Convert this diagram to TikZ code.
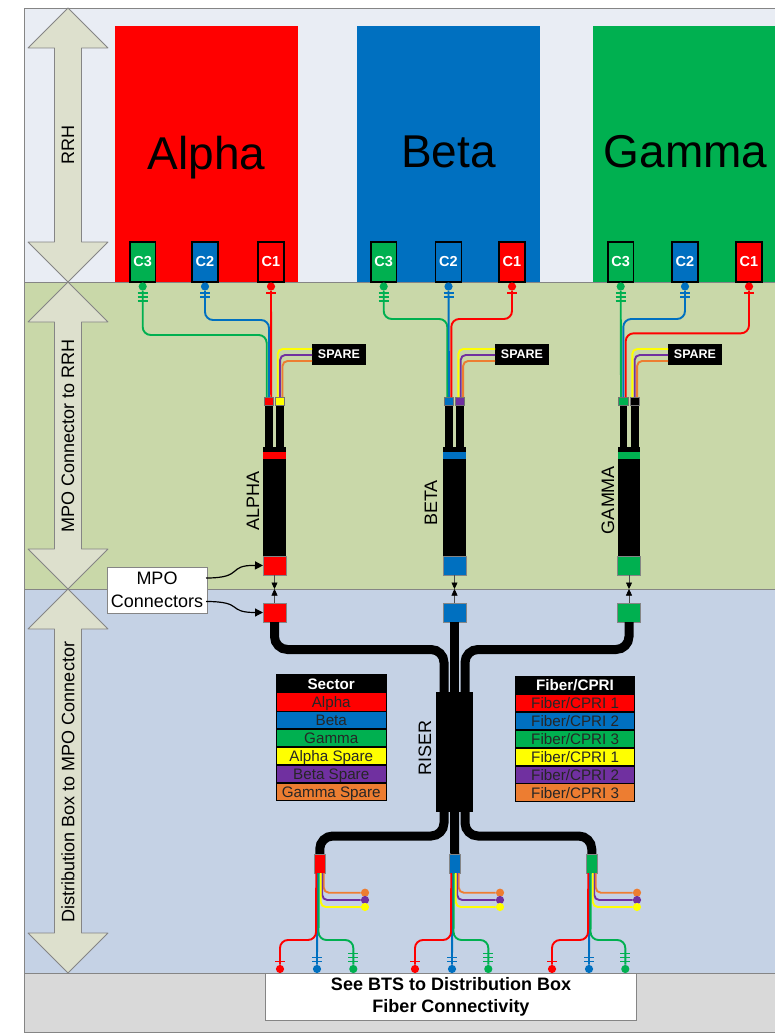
\documentclass[tikz,border=0pt]{standalone}
\usepackage{fontspec}
\setmainfont{Liberation Sans}
\usetikzlibrary{arrows.meta}
\definecolor{cred}{HTML}{FF0000}
\definecolor{cblue}{HTML}{0070C0}
\definecolor{cgreen}{HTML}{00B050}
\definecolor{cyellow}{HTML}{FFFF00}
\definecolor{cpurple}{HTML}{7030A0}
\definecolor{corange}{HTML}{ED7D31}
\definecolor{bandtop}{HTML}{E9EDF4}
\definecolor{bandgreen}{HTML}{C9D8A9}
\definecolor{bandblue}{HTML}{C5D2E5}
\definecolor{bandgray}{HTML}{D9D9D9}
\definecolor{arrowfill}{HTML}{DDE0CD}
\definecolor{edgegray}{HTML}{858585}
\tikzset{
  bandbox/.style={draw=edgegray,line width=0.8pt},
  bigarrow/.style={draw=edgegray,fill=arrowfill,line width=0.8pt,line join=round},
  sidelabel/.style={rotate=90,font=\fontsize{18}{18}\selectfont,inner sep=0pt},
  bx/.style={inner sep=0pt,outer sep=0pt,anchor=north west},
  portbox/.style={bx,draw=black,line width=1.4pt,text=white,font=\bfseries\fontsize{14.5}{14.5}\selectfont},
  sectorbox/.style={bx},
  blackbox/.style={bx,fill=black},
  capbox/.style={bx,draw=black!55,line width=0.4pt},
  plugbox/.style={bx,draw=edgegray,line width=0.4pt},
  sparebox/.style={bx,fill=black,text=white,font=\bfseries\fontsize{12.5}{12.5}\selectfont},
  legrow/.style={bx,font=\fontsize{15.2}{15.2}\selectfont,text=black!85,text height=13pt,text depth=2pt},
  leghead/.style={bx,text=white,font=\bfseries\fontsize{15.2}{15.2}\selectfont},
  fib/.style={line width=1.9pt,rounded corners=8pt},
  sparefib/.style={line width=1.9pt,rounded corners=5pt},
  fibtick/.style={line width=1.4pt},
  fdot/.style={circle,inner sep=0pt,minimum size=8.2pt},
  cable/.style={line width=9pt,draw=black,rounded corners=13pt},
  pointer/.style={line width=1.2pt,black,-{Triangle[length=8pt,width=8pt]}},
  thinarrow/.style={line width=0.5pt,draw=black!70,-{Triangle[length=6.5pt,width=6pt,color=black]}},
  whitebox/.style={bx,fill=white,draw=edgegray,line width=0.8pt,align=center},
  bigtext/.style={font=\fontsize{46}{46}\selectfont,inner sep=0pt},
}
% named rectangle from corner to corner
\newcommand\rc[7]{\node[#6,minimum width={(#4-#2)*1pt},minimum height={(#5-#3)*1pt}] (#1) at (#2,#3) {#7};}
\newcommand\tk[3]{\draw[fibtick,#1] ([shift={(-5,#3)}]#2.center) -- ([shift={(5,#3)}]#2.center);}
% harness body: prefix, x offset, colour, left cap, right cap
\newcommand\harness[5]{
\begin{scope}[shift={(#2,0)}]
  \rc{#1legL}{265}{397}{272.7}{450}{blackbox}{}
  \rc{#1legR}{276}{397}{284}{450}{blackbox}{}
  \rc{#1body}{263.3}{447}{285.5}{556}{blackbox}{}
  \rc{#1band}{263.3}{452.3}{285.5}{459}{bx,fill=#3}{}
  \rc{#1up}{263}{556}{286}{575}{plugbox,fill=#3}{}
  \rc{#1lo}{263}{603}{286}{622}{plugbox,fill=#3}{}
  \rc{#1cL}{264}{397}{273.3}{405}{capbox,fill=#4}{}
  \rc{#1cR}{275.3}{397}{284.3}{405}{capbox,fill=#5}{}
  \coordinate (#1mid) at (274.5,589);
\end{scope}
\draw[thinarrow] (#1up.south) -- (#1mid);
\draw[thinarrow] (#1lo.north) -- (#1mid);
}
% lower fibre group: prefix, x offset, colour
\newcommand\fibres[3]{
\begin{scope}[shift={(#2,0)}]
  \rc{#1c}{314}{854}{325.5}{873}{plugbox,fill=#3}{}
  \node[fdot,fill=corange] (#1o) at (365,892.7) {};
  \node[fdot,fill=cpurple] (#1p) at (365,900) {};
  \node[fdot,fill=cyellow] (#1y) at (365,907) {};
  \node[fdot,fill=cred] (#1r) at (280,969) {};
  \node[fdot,fill=cblue] (#1b) at (317,969) {};
  \node[fdot,fill=cgreen] (#1g) at (353.3,969) {};
  \coordinate (#1rb) at (316,940);
  \coordinate (#1gb) at (318.5,940);
  \draw[sparefib,corange] ([xshift=4pt]#1c.south) |- (#1o);
  \draw[sparefib,cpurple] ([xshift=2.5pt]#1c.south) |- (#1p);
  \draw[sparefib,cyellow] ([xshift=1pt]#1c.south) |- (#1y);
  \draw[fib,cblue] ([xshift=-2.5pt]#1c.south) -- (#1b);
  \draw[fib,cgreen] ([xshift=-1pt]#1c.south) -- (#1gb) -| (#1g);
  \draw[fib,cred] ([xshift=-3.5pt]#1c.south) -- (#1rb) -| (#1r);
  \tk{cred}{#1r}{-7.5}
  \tk{cblue}{#1b}{-7.5}\tk{cblue}{#1b}{-11.5}
  \tk{cgreen}{#1g}{-7.5}\tk{cgreen}{#1g}{-11.5}\tk{cgreen}{#1g}{-15.5}
\end{scope}
}
% ports of a sector: prefix and left edges of the three ports
\newcommand\ports[4]{
  \rc{#1p3}{#2}{242}{#2+25.5}{282}{portbox,fill=cgreen}{C3}
  \rc{#1p2}{#3}{242}{#3+26}{282}{portbox,fill=cblue}{C2}
  \rc{#1p1}{#4}{242}{#4+26}{282}{portbox,fill=cred}{C1}
  \node[fdot,fill=cgreen] (#1d3) at (#2+12.7,286.5) {};
  \node[fdot,fill=cblue] (#1d2) at (#3+13,286.5) {};
  \node[fdot,fill=cred] (#1d1) at (#4+13,286.5) {};
  \tk{cgreen}{#1d3}{6.5}\tk{cgreen}{#1d3}{10.5}\tk{cgreen}{#1d3}{14.5}
  \tk{cblue}{#1d2}{6.5}\tk{cblue}{#1d2}{10.5}
  \tk{cred}{#1d1}{6.5}
}
% spare fibres: prefix, x of yellow riser, box west x
\newcommand\spares[3]{
  \rc{#1sp}{#3}{344}{#3+54}{365}{sparebox}{SPARE}
  \coordinate (#1sy) at (#2,349);
  \coordinate (#1sv) at (#2+2.4,355);
  \coordinate (#1so) at (#2+4.8,361);
  \draw[sparefib,cyellow] (#1sy -| #1sp.west) -- (#1sy) -- (#1sy |- #1cR.north);
  \draw[sparefib,cpurple] (#1sv -| #1sp.west) -- (#1sv) -- (#1sv |- #1cR.north);
  \draw[sparefib,corange] (#1so -| #1sp.west) -- (#1so) -- (#1so |- #1cR.north);
}
\newcommand\dblarrow[2]{
  \draw[bigarrow] (68,#1) -- (108,#1+40) -- (81.5,#1+40) -- (81.5,#2-40) -- (108,#2-40) -- (68,#2)
     -- (28,#2-40) -- (54.5,#2-40) -- (54.5,#1+40) -- (28,#1+40) -- cycle;
}
\begin{document}
\begin{tikzpicture}[x=1pt,y=-1pt]
\useasboundingbox (0,0) rectangle (775,1035);
% bands
\fill[white] (0,0) rectangle (775,1035);
\draw[bandbox,fill=bandtop] (24,8) rectangle (776,282);
\draw[bandbox,fill=bandgreen] (24,282) rectangle (776,589);
\draw[bandbox,fill=bandblue] (24,589) rectangle (776,973);
\draw[bandbox,fill=bandgray] (24,973) rectangle (776,1032);
% side arrows
\dblarrow{8}{282}
\dblarrow{282}{589}
\dblarrow{589}{973}
\node[sidelabel] (lrrh) at (68,145) {RRH};
\node[sidelabel] (lmpo) at (68,436) {MPO Connector to RRH};
\node[sidelabel] (ldist) at (68,782) {Distribution Box to MPO Connector};
% RRH sectors
\rc{alpha}{115}{26}{298}{282}{sectorbox,fill=cred}{}
\rc{beta}{357}{26}{540}{282}{sectorbox,fill=cblue}{}
\rc{gamma}{593}{26}{776}{282}{sectorbox,fill=cgreen}{}
\node[bigtext] (talpha) at (206.5,157.5) {Alpha};
\node[bigtext] (tbeta) at (448.5,152) {Beta};
\node[bigtext] (tgamma) at (685.5,152) {Gamma};
\ports{a}{130}{192}{258}
\ports{b}{371}{435.5}{499}
\ports{c}{608}{672}{736}
% harness bodies
\harness{ha}{0}{cred}{cred}{cyellow}
\harness{hb}{180}{cblue}{cblue}{cpurple}
\harness{hc}{354.5}{cgreen}{cgreen}{black}
\node[sidelabel] (lalpha) at (253,501) {ALPHA};
\node[sidelabel] (lbeta) at (431,503) {BETA};
\node[sidelabel] (lgamma) at (608,500) {GAMMA};
% upper fibres, alpha
\coordinate (ag) at (266.7,335);
\coordinate (ab) at (269,320);
\coordinate (ar) at (271.2,320);
\draw[fib,cgreen] (ad3) |- (ag) -- (ag |- hacL.north);
\draw[fib,cblue] (ad2) |- (ab) -- (ab |- hacL.north);
\draw[fib,cred] (ad1) -- (ar |- hacL.north);
\spares{ha}{277.7}{312}
% upper fibres, beta
\coordinate (bg) at (447.3,319);
\coordinate (bb) at (449,319);
\coordinate (br) at (451.3,319);
\draw[fib,cgreen] (bd3) |- (bg) -- (bg |- hbcL.north);
\draw[fib,cblue] (bd2) -- (bb |- hbcL.north);
\draw[fib,cred] (bd1) |- (br) -- (br |- hbcL.north);
\spares{hb}{458.3}{495}
% upper fibres, gamma
\coordinate (cg) at (621,333);
\coordinate (cb) at (623.3,319);
\coordinate (cr) at (625.7,333.3);
\draw[fib,cgreen] (cd3) -- (cg |- hccL.north);
\draw[fib,cblue] (cd2) |- (cb) -- (cb |- hccL.north);
\draw[fib,cred] (cd1) |- (cr) -- (cr |- hccL.north);
\spares{hc}{632.3}{668}
% riser
\rc{riser}{436}{692}{473}{812}{blackbox}{}
\node[sidelabel] (lriser) at (425,748) {RISER};
\coordinate (rl) at (444,649.5);
\coordinate (rr) at (465,649.5);
\coordinate (rm) at (454.5,649.5);
\coordinate (sl) at (444,836);
\coordinate (sr) at (465,836);
\draw[cable] (halo.south) |- (rl) -- (rl |- riser.north);
\draw[cable] (hblo.south) -- (rm |- riser.north);
\draw[cable] (hclo.south) |- (rr) -- (rr |- riser.north);
% lower fibres and their cables
\draw[cable] (sl |- riser.south) -- (sl) -| (319.75,854);
\draw[cable] (rm |- riser.south) -- (454.75,854);
\draw[cable] (sr |- riser.south) -- (sr) -| (591.75,854);
\fibres{fa}{0}{cred}
\fibres{fb}{135}{cblue}
\fibres{fc}{272}{cgreen}
% legends
\rc{secbg}{275.7}{674.3}{386.7}{801.3}{blackbox}{}
\rc{sech}{275.7}{674.3}{386.7}{693.3}{leghead}{Sector}
\rc{sec1}{277}{693.3}{385.5}{710.5}{legrow,fill=cred}{Alpha}
\rc{sec2}{277}{711.7}{385.5}{728.2}{legrow,fill=cblue}{Beta}
\rc{sec3}{277}{729.5}{385.5}{746.3}{legrow,fill=cgreen}{Gamma}
\rc{sec4}{277}{747.7}{385.5}{764.2}{legrow,fill=cyellow}{Alpha Spare}
\rc{sec5}{277}{765.7}{385.5}{782.2}{legrow,fill=cpurple}{Beta Spare}
\rc{sec6}{277}{784}{385.5}{800.2}{legrow,fill=corange}{Gamma Spare}
\rc{fibg}{515}{675.7}{635}{802.3}{blackbox}{}
\rc{fih}{515}{675.7}{635}{694.7}{leghead}{Fiber/CPRI}
\rc{fi1}{516.3}{695}{634}{711.2}{legrow,fill=cred}{Fiber/CPRI 1}
\rc{fi2}{516.3}{712.7}{634}{729}{legrow,fill=cblue}{Fiber/CPRI 2}
\rc{fi3}{516.3}{730.7}{634}{747}{legrow,fill=cgreen}{Fiber/CPRI 3}
\rc{fi4}{516.3}{748.7}{634}{765}{legrow,fill=cyellow}{Fiber/CPRI 1}
\rc{fi5}{516.3}{766.7}{634}{783}{legrow,fill=cpurple}{Fiber/CPRI 2}
\rc{fi6}{516.3}{784.3}{634}{801}{legrow,fill=corange}{Fiber/CPRI 3}
% MPO callout
\rc{mpo}{107}{567}{207}{613}{whitebox,font=\fontsize{18}{23}\selectfont}{MPO\\Connectors}
\coordinate (m1) at (206,578);
\coordinate (m2) at (206,601.5);
\draw[pointer] (m1) .. controls (245,578) and (226,565) .. (haup.west);
\draw[pointer] (m2) .. controls (245,601.5) and (226,612.5) .. (halo.west);
% bottom note
\rc{bts}{265.5}{973}{636.5}{1020.5}{whitebox,font=\bfseries\fontsize{18}{22.5}\selectfont}{See BTS to Distribution Box\\Fiber Connectivity}
\end{tikzpicture}
\end{document}
